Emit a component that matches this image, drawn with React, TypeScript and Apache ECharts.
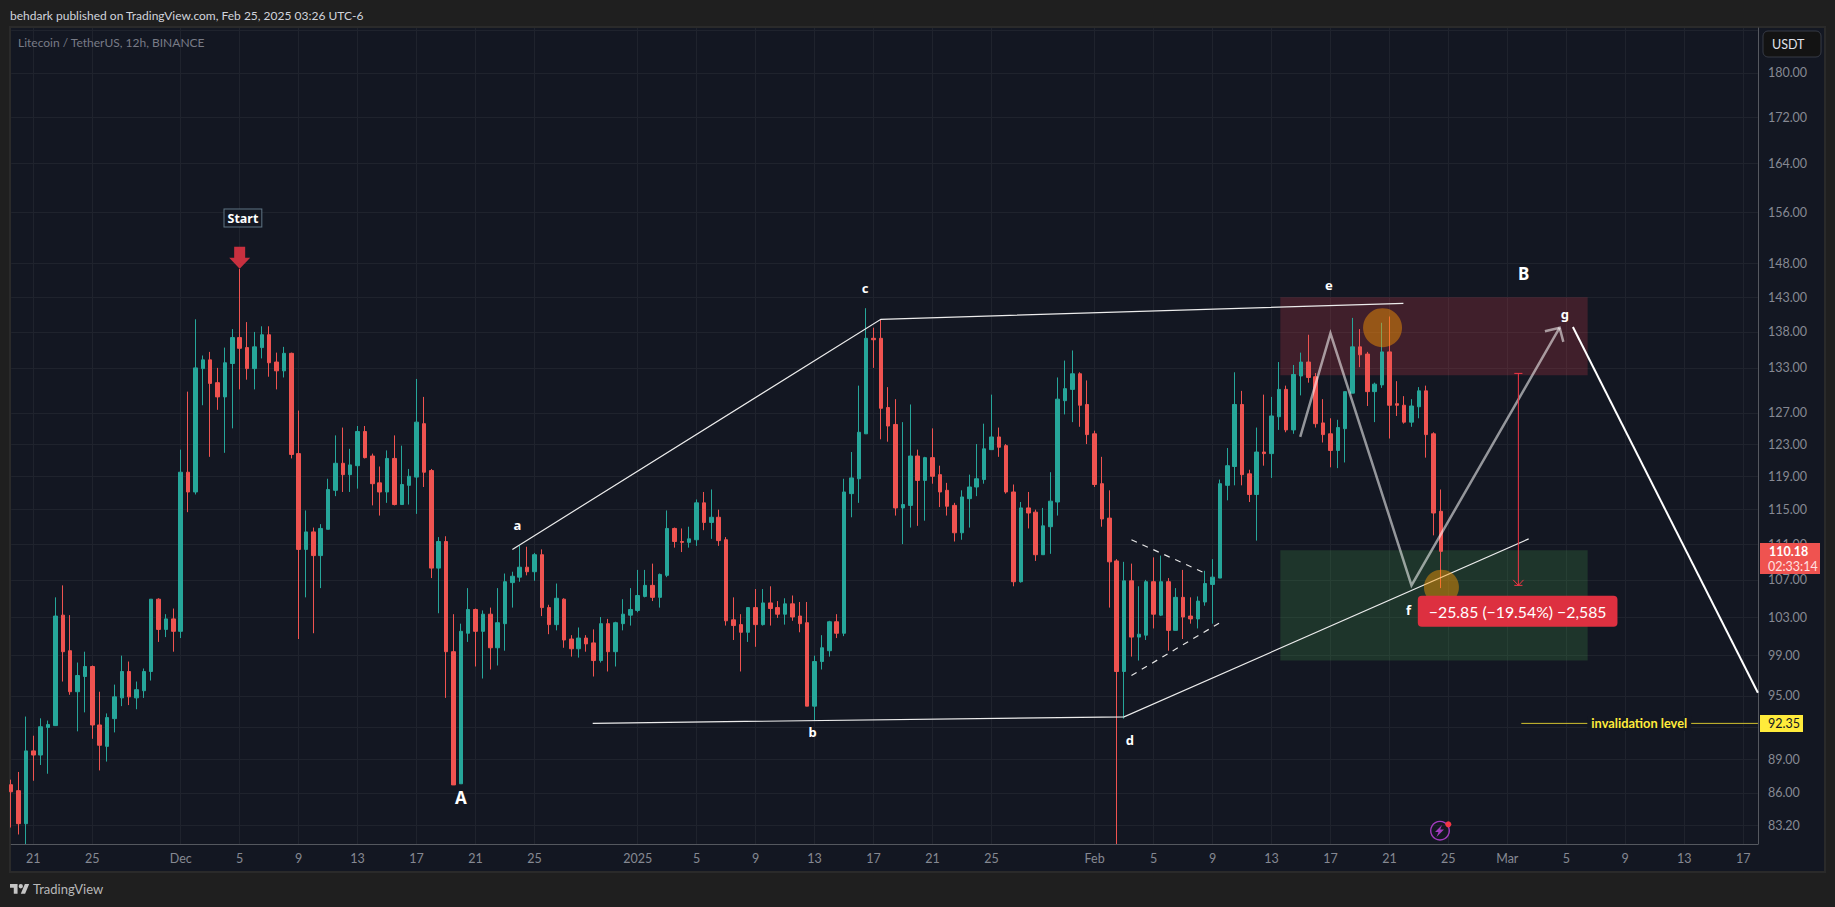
import React, { useEffect, useRef } from "react";
import * as echarts from "echarts";

const xTickLabels: [number, string][] = [
  [3, "21"], [11, "25"], [23, "Dec"], [31, "5"], [39, "9"], [47, "13"], [55, "17"], [63, "21"], [71, "25"],
  [85, "2025"], [93, "5"], [101, "9"], [109, "13"], [117, "17"], [125, "21"], [133, "25"], [147, "Feb"],
  [155, "5"], [163, "9"], [171, "13"], [179, "17"], [187, "21"], [195, "25"], [203, "Mar"], [211, "5"],
  [219, "9"], [227, "13"], [235, "17"],
];
const barCount = 238;
const priceTicks = [83.2, 86, 89, 92, 95, 99, 103, 107, 111, 115, 119, 123, 127, 133, 138, 143, 148, 156, 164, 172, 180, 188];
const hiddenPriceLabels = [92, 188];

const opens = [
  86.72,86.19,83.32,89.78,89.4,91.97,92.14,103.2,99.5,95.4,
  96.9,97.9,92.2,90.2,92.8,94.8,97.4,94.8,95.5,97.4,
  104.9,101.7,102.8,101.5,119.5,117.1,132.9,134.1,131,129.1,
  133.6,137.2,135.8,132.9,135.8,137.6,133.8,132.6,135,121.8,
  110.4,112.4,109.7,112.7,117.3,120.6,119.2,120.3,124.6,121.5,
  118.2,117.1,121.2,115.6,117.9,118.9,125.6,119.7,108.3,111.3,
  99.4,86.8,101.3,103.8,101.5,103.3,99.8,102.3,106.7,107.3,
  108.4,107.9,109.8,104,102.2,104.9,100.7,99.7,100.8,100.3,
  98.5,102.3,99.4,102.3,103.2,103.7,105.2,106.4,105.1,107.5,
  112.8,111.3,111.2,111.5,115.8,113.5,114.1,111.5,102.7,102.2,
  101.4,104,102.2,104.5,104,103.3,104.4,103.1,102.4,94,
  98.4,99.5,102.5,101.3,116.9,118.7,124.3,137.1,137.1,127.7,
  125.5,115.2,115.5,121.5,118.5,121.3,119.2,117.3,115.5,112.3,
  116.3,117.7,118.6,122.3,123.9,122.8,117.1,106.8,115.2,114.7,
  109.8,113,115.9,128.6,130.1,132.2,128.1,124.3,118.1,114,
  109.1,97.4,106.9,100.9,101.1,106.8,103.2,106.8,101.6,105.1,
  103.1,102.8,104.6,106.5,107.2,117.9,120.2,128.1,119.3,116.8,
  122,121.8,126.5,130.1,124.8,131.9,133.8,131.8,125.7,124.3,
  122.2,124.96,129.6,135.9,134.9,129.8,130.7,135.2,128.2,128,
  125.8,127.8,129.9,124.3,114.8,
];
const closes = [
  86.09,83.32,89.78,89.4,92.03,92.24,103.1,99.4,95.4,97,
  97.9,92.2,90.3,92.9,94.9,97.4,94.9,95.6,97.4,104.9,
  101.7,102.8,101.5,119.5,117.1,133,134.1,130.9,129.1,133.7,
  137.2,135.7,132.9,135.9,137.6,133.7,132.6,135,121.7,110.4,
  112.4,109.7,112.8,117.4,120.6,119.2,120.4,124.6,121.3,118.1,
  117.1,121.2,115.6,118,119,125.8,119.5,108.3,111.3,99.4,
  86.7,101.5,103.8,101.5,103.3,99.8,102.4,106.8,107.4,108.4,
  107.9,109.8,104,102.2,105,100.6,99.7,100.8,100.2,98.5,
  102.3,99.4,102.4,103.3,103.8,105.3,106.4,105.1,107.6,112.8,
  111.3,111.2,111.6,115.8,113.5,114.1,111.4,102.6,102.1,101.4,
  104,102.2,104.5,103.9,103.3,104.4,103,102.3,94,98.4,
  99.8,102.5,101.3,117.1,118.8,124.5,137.1,136.9,127.6,125.3,
  115.2,115.6,121.5,118.5,121.3,119,117.1,115.4,112.3,116.5,
  117.7,118.7,122.4,123.9,122.6,117.1,106.8,115.2,114.6,109.8,
  113.1,116,128.8,130.2,132.2,128,124.2,118,113.9,109,
  97.4,106.9,100.9,101.2,106.8,103.3,106.8,101.6,105.1,103,
  102.8,104.7,106.6,107.3,118.1,120.3,128.1,119.2,116.8,122,
  121.8,126.6,130.1,124.8,132.1,133.8,131.7,125.6,124.2,122.2,
  125.1,129.8,135.9,134.8,129.8,130.8,135.2,128,128,125.8,
  127.9,129.9,124.2,114.6,110.18,
];
const lows = [
  82.99,82.4,81.6,87.07,88.49,87.7,92.1,96.4,95.1,91.6,
  93.4,90.9,88,88.8,91.5,94,94.1,93.7,94.8,96.5,
  100.4,100.9,99.4,100.8,114.7,116.8,128,121.4,127.4,121.9,
  125,130.1,131.4,130.1,134.3,131.8,130.1,131.7,121.2,100.7,
  105.1,101.3,106.1,112.7,116.6,117.1,117.1,117.5,121.2,115.5,
  114.3,115.8,115.5,115.6,115.6,114.5,117.7,107.2,103.4,94.8,
  86.7,86.8,100.4,97.9,96.7,97.6,98,99.5,104,106.8,
  107.5,106.9,103.1,101.2,101.6,99.8,98.9,98.8,99.4,96.9,
  98.3,97.4,97.9,101.6,102.1,103.5,105.1,104.7,104,107.3,
  110.6,110.1,110.6,110.8,112.6,111.6,110.8,102.1,100.6,97.4,
  100.4,99.9,102.1,102.1,102.9,102.2,102.6,101.4,94,92.6,
  97.6,98.9,100.8,101,114.1,115.8,124.3,133,123.6,123.3,
  114.3,111,112.9,113.1,113.7,118.1,115.3,114.3,111.3,111.5,
  112.9,116.6,118.1,122.3,121.4,116.9,106.3,106.7,112.8,109.1,
  109.8,109.9,114.3,126.8,125.8,125.2,123,117.7,113,104,
  81.6,92.8,98.9,98.5,100.6,101.8,103.1,99.5,101.6,100.7,
  102.3,101.8,104.2,102.3,107.2,116.1,117.9,117.9,115.9,111.4,
  120.3,118.8,124.8,124.5,124.3,129.3,131,125.1,123.2,120.1,
  120,120.7,129.6,133.1,127.9,125.8,130.3,123.7,126.6,125.6,
  125.2,126.3,121.3,112,106.1,
];
const highs = [
  87.17,87.86,93,91.19,92.83,92.62,105.1,106.4,103.2,98.3,
  99.4,98,95.4,93.3,96.1,99,98.4,96.4,97.7,104.9,
  105,103.3,103.9,122.3,129.8,139.8,134.7,135.2,133,135.8,
  138.4,147.2,139.4,138,138.8,138.8,135.1,135.9,135.1,127.3,
  114.9,112.9,113.3,118.7,124.1,125.1,122.4,125.3,125.3,121.8,
  120.2,122.2,124.1,122.8,119.9,131.5,129.1,119.9,111.8,111.9,
  103.3,102.3,106.1,103.9,103.7,104,106.1,107.7,107.9,110.8,
  110.7,110,110.4,104.3,106.6,105,101.1,101.9,101.1,101.7,
  103,102.8,102.5,104.9,106.1,108.1,108.1,108.8,107.7,114.9,
  112.9,112.8,113,116.2,117.1,117.4,115,111.8,105.1,103.3,
  104,106,106,106.3,104.7,105,105.3,104.6,104.6,99,
  101.1,102.6,103.3,118.7,122,130.6,141.4,138.6,139.7,130.4,
  128.8,125.8,128.1,122.3,121.4,125,120.3,118.2,115.8,117.3,
  119.2,123,125.6,129.4,125.1,123,118,115.9,117.1,115,
  115.2,119.5,131.7,134,135.4,132.4,131.3,124.7,121.4,117.3,
  109.3,109,108.8,106.3,107,109.5,109.7,107.2,106.1,108.1,
  105.1,105.2,108,109.3,118.6,122.5,132.4,129.9,119.8,125.1,
  129.4,129.1,133.8,130.6,133.4,135.1,137.6,132.3,128.8,126.3,
  126.1,129.8,140,138.4,135.2,131,139.3,140.2,131.2,129.2,
  128.8,130.4,130.6,124.5,117.4,
];

// Annotation values: [bar index, price]
const topTrend = [[68, 110.4], [118, 139.8], [188.9, 142.1]];
const bottomTrend = [[78.9, 92.36], [151, 92.97], [205.9, 111.6]];
const dashUpper = [[152, 111.5], [162.1, 107.7]];
const dashLower = [[152, 97.0], [164, 102.4]];
const zigzag = [[174.9, 123.9], [179, 137.8], [190, 106.4], [210.1, 138.6]];
const zigzagHead = [[208.1, 138.1], [210.1, 138.6], [210.6, 136.6]];
const finalDrop = [[211.9, 138.7], [237, 95.3]];
const measureShaft = [[204.5, 132.25], [204.5, 106.4]];
const measureCapTop = [[203.95, 132.25], [205.05, 132.25]];
const measureCapBottom = [[203.95, 106.4], [205.05, 106.4]];
const measureHead = [[203.8, 107.0], [204.5, 106.4], [205.2, 107.0]];
const invalidation = [[204.9, 92.35], [237, 92.35]];
const redZone = { from: 172.2, to: 213.9, top: 143.0, bottom: 132.0 };
const greenZone = { from: 172.2, to: 213.9, top: 110.3, bottom: 98.5 };
const circles = [[186.07, 138.6, 39], [194.06, 106.2, 35]];
const startArrow = [[31, 148.9]];
const smallLabels = [
  [68.67, 113.2, "a"], [108.75, 91.5, "b"], [115.85, 144.4, "c"], [151.8, 90.8, "d"],
  [178.8, 144.8, "e"], [189.6, 103.7, "f"], [210.8, 140.5, "g"],
];
const bigLabels = [[61.03, 85.6, "A"], [205.2, 146.5, "B"]];
const startLabel = [[31.44, 155.1, "Start"]];
const measureLabel = [[204.4, 103.6, "\u221225.85 (\u221219.54%) \u22122,585"]];
const invalidationLabel = [[220.9, 92.35, "invalidation level"]];

const FONT = "Lato";
const UI = "'Noto Sans'";

const categories = Array.from({ length: barCount }, (_, i) => {
  const hit = xTickLabels.find((t) => t[0] === i);
  return hit ? hit[1] : `#${i}`;
});
const isTick = (i: number) => xTickLabels.some((t) => t[0] === i);

const lineSeries = (name: string, data: number[][], color: string, width: number, type: any = "solid", z = 5) => ({
  name,
  type: "line",
  xAxisIndex: 1,
  yAxisIndex: 0,
  data,
  symbol: "none",
  silent: true,
  z,
  lineStyle: { color, width, type, join: "miter" },
});

const labelSeries = (name: string, data: any[], label: any) => ({
  name,
  type: "scatter",
  xAxisIndex: 1,
  yAxisIndex: 0,
  data,
  symbolSize: 1,
  silent: true,
  z: 8,
  itemStyle: { color: "transparent", opacity: 1 },
  label: {
    show: true,
    position: "inside",
    fontFamily: UI,
    formatter: (p: any) => p.value[2],
    ...label,
  },
});

const zoneSeries = (name: string, z: any, color: string) => ({
  name,
  type: "line",
  xAxisIndex: 1,
  yAxisIndex: 0,
  data: [[z.from, z.top]],
  symbol: "none",
  silent: true,
  lineStyle: { width: 0 },
  markArea: {
    silent: true,
    itemStyle: { color },
    data: [[{ coord: [z.from, z.top] }, { coord: [z.to, z.bottom] }]],
  },
});

const txt = (x: number, y: number, text: string, fill: string, font: string, z = 100) => ({
  type: "text",
  z,
  x,
  y,
  silent: true,
  style: { text, fill, font, verticalAlign: "middle" },
});

export default function App() {
  const ref = useRef<HTMLDivElement>(null);
  useEffect(() => {
    document.body.style.margin = "0";
    document.body.style.background = "#1f1f1f";
    const chart = echarts.init(ref.current!, undefined, { renderer: "svg" });
    echarts.graphic.registerShape(
      "tvlogo",
      echarts.graphic.extendPath("M14 22H7V11H0V4h14v18zM28 22h-8l7.5-18h8L28 22zM24 8a4 4 0 1 1-8 0a4 4 0 1 1 8 0z", {})
    );
    echarts.graphic.registerShape(
      "bolt",
      echarts.graphic.extendPath("M7 0L0 7h3.5L1.5 12 9 4.6H5.2L7 0z", {})
    );
    const candleData = opens.map((o, i) => [o, closes[i], lows[i], highs[i]]);
    chart.setOption({
      animation: false,
      backgroundColor: "#1f1f1f",
      grid: { left: 11.2, width: 1746.7, top: 28, height: 816, containLabel: false },
      xAxis: [
        {
          type: "category",
          data: categories,
          boundaryGap: false,
          axisLine: { show: true, lineStyle: { color: "#55585f", width: 1 } },
          axisTick: { show: false },
          axisLabel: {
            color: "#868993",
            fontFamily: FONT,
            fontSize: 12.5,
            margin: 8,
            interval: (i: number) => isTick(i),
            formatter: (v: string) => v,
            hideOverlap: false,
          },
          splitLine: {
            show: true,
            interval: (i: number) => isTick(i),
            lineStyle: { color: "#1f232d", width: 1 },
          },
        },
        { type: "value", min: 0, max: 237, show: false, splitLine: { show: false } },
      ],
      yAxis: [
        {
          type: "log",
          position: "right",
          min: 81.6,
          max: 188.5,
          axisLine: { show: true, onZero: false, lineStyle: { color: "#55585f", width: 1 } },
          axisTick: { show: false, customValues: priceTicks },
          axisLabel: {
            customValues: priceTicks,
            color: "#868993",
            fontFamily: FONT,
            fontSize: 12.5,
            margin: 10,
            showMinLabel: true,
            showMaxLabel: true,
            formatter: (v: number) => (hiddenPriceLabels.includes(+v) ? "" : (+v).toFixed(2)),
          },
          splitLine: { show: true, lineStyle: { color: "#1f232d", width: 1 } },
        },
      ],
      series: [
        zoneSeries("Sell zone", redZone, "rgba(244,63,79,0.2)"),
        zoneSeries("Buy zone", greenZone, "rgba(76,175,80,0.2)"),
        {
          name: "LTCUSDT",
          type: "candlestick",
          xAxisIndex: 0,
          yAxisIndex: 0,
          data: candleData,
          barWidth: 4,
          clip: true,
          z: 3,
          itemStyle: {
            color: "#26a69a",
            color0: "#ef5350",
            borderColor: "#26a69a",
            borderColor0: "#ef5350",
            borderWidth: 1,
          },
        },
        lineSeries("Upper trend", topTrend, "#ececec", 1.2),
        lineSeries("Lower trend", bottomTrend, "#ececec", 1.2),
        lineSeries("Triangle top", dashUpper, "#e6e6e6", 1.2, [6, 6]),
        lineSeries("Triangle bottom", dashLower, "#e6e6e6", 1.2, [6, 6]),
        lineSeries("Path", zigzag, "rgba(255,255,255,0.55)", 2.5),
        lineSeries("Path head", zigzagHead, "rgba(255,255,255,0.55)", 2.5),
        lineSeries("Final leg", finalDrop, "#ffffff", 2),
        lineSeries("Measure", measureShaft, "#f23645", 1),
        lineSeries("Measure top", measureCapTop, "#f23645", 1),
        lineSeries("Measure bottom", measureCapBottom, "#f23645", 1),
        lineSeries("Measure head", measureHead, "#f23645", 1),
        lineSeries("Invalidation", invalidation, "#d2c22f", 1),
        {
          name: "Circles",
          type: "scatter",
          xAxisIndex: 1,
          yAxisIndex: 0,
          data: circles,
          silent: true,
          z: 6,
          symbolSize: (v: number[]) => v[2],
          itemStyle: { color: "rgba(255,152,0,0.45)", opacity: 1 },
        },
        {
          name: "Start arrow",
          type: "scatter",
          xAxisIndex: 1,
          yAxisIndex: 0,
          data: startArrow,
          silent: true,
          z: 6,
          symbol: "path://M5 0h11v11h5l-10.5 11L0 11h5z",
          symbolSize: [21, 22],
          itemStyle: { color: "#c8303f", opacity: 1 },
        },
        labelSeries("Small labels", smallLabels, { color: "#ffffff", fontWeight: "bold", fontSize: 13 }),
        labelSeries("Big labels", bigLabels, { color: "#ffffff", fontWeight: "bold", fontSize: 17 }),
        labelSeries("Start label", startLabel, {
          color: "#ffffff",
          fontWeight: "bold",
          fontSize: 12.5,
          backgroundColor: "#131722",
          borderColor: "#5f7583",
          borderWidth: 1,
          padding: [2, 3, 2, 3],
        }),
        labelSeries("Measure label", measureLabel, {
          color: "#ffffff",
          fontFamily: FONT,
          fontSize: 15.8,
          backgroundColor: "#dd3040",
          borderRadius: 4,
          padding: [8, 11, 7, 11],
        }),
        labelSeries("Invalidation label", invalidationLabel, {
          color: "#ffeb3b",
          fontWeight: "bold",
          fontFamily: FONT,
          fontSize: 12.8,
          backgroundColor: "#131722",
          padding: [1, 4, 1, 4],
        }),
      ],
      graphic: [
        { type: "rect", z: -100, silent: true, shape: { x: 9, y: 26, width: 1817, height: 847 }, style: { fill: "#2a2a2a" } },
        { type: "rect", z: -99, silent: true, shape: { x: 11, y: 28, width: 1813, height: 843 }, style: { fill: "#131722" } },
        txt(10, 15, "behdark published on TradingView.com, Feb 25, 2025 03:26 UTC-6", "#d1d4dc", `12px ${FONT}`),
        txt(18, 42, "Litecoin / TetherUS, 12h, BINANCE", "#787b86", `12px ${FONT}`),
        { type: "rect", z: 100, silent: true, shape: { x: 1763, y: 31, width: 58, height: 26, r: 5 }, style: { fill: "#131313", stroke: "#363a45", lineWidth: 1 } },
        txt(1772, 44.5, "USDT", "#e0e3eb", `12.5px ${FONT}`, 101),
        { type: "rect", z: 100, silent: true, shape: { x: 1760, y: 543, width: 60, height: 31 }, style: { fill: "#ef5350" } },
        txt(1769, 551.5, "110.18", "#ffffff", `bold 12.5px ${FONT}`, 101),
        txt(1768, 566, "02:33:14", "#ffe1e1", `12.5px ${FONT}`, 101),
        { type: "rect", z: 100, silent: true, shape: { x: 1760, y: 715, width: 43, height: 17 }, style: { fill: "#ffeb3b" } },
        txt(1768, 723.5, "92.35", "#131722", `12.5px ${FONT}`, 101),
        { type: "ring", z: 100, silent: true, shape: { cx: 1440, cy: 830.7, r: 10, r0: 8.6 }, style: { fill: "#a13bbd" } },
        { type: "bolt", z: 100, x: 1435, y: 825, silent: true, style: { fill: "#a13bbd" } },
        { type: "circle", z: 101, silent: true, shape: { cx: 1448.3, cy: 824.3, r: 3 }, style: { fill: "#f23645" } },
        { type: "tvlogo", z: 100, x: 10, y: 881.9, scaleX: 0.54, scaleY: 0.54, silent: true, style: { fill: "#c4c4c4" } },
        txt(33, 889, "TradingView", "#b8b8b8", `13px ${FONT}`),
      ],
    });
    return () => chart.dispose();
  }, []);
  return <div ref={ref} style={{ width: 1835, height: 907 }} />;
}
